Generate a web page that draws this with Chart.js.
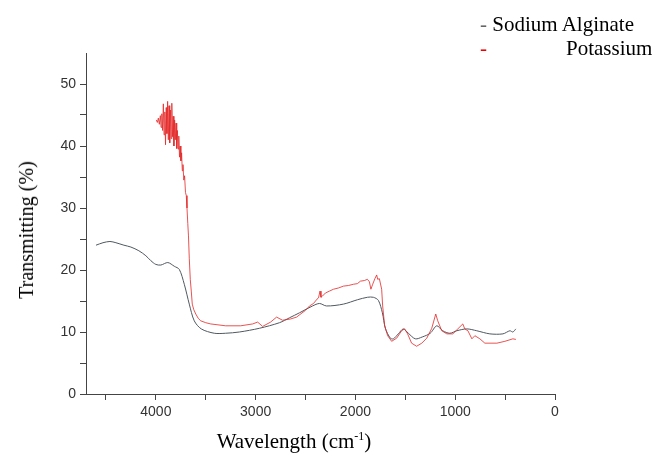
<!DOCTYPE html>
<html>
<head>
<meta charset="utf-8">
<script src="https://cdn.jsdelivr.net/npm/chart.js@4"></script>
<style>
  body { margin: 0; background: #fff; }
  #wrap { position: relative; width: 655px; height: 458px; overflow: hidden; }
  #chart { position: absolute; left: 0; top: 0; }
  .serif { position: absolute; font-family: "Liberation Serif", "Times New Roman", serif; color: #000; white-space: nowrap; line-height: 24px; }
  #legend1 { left: 480px; top: 12px; font-size: 21px; }
  #legend2 { left: 480px; top: 36px; font-size: 21px; width: 175px; }
  #legend2 .name { position: absolute; left: 86px; top: 0; }
  #ytitle { left: 26px; top: 230px; font-size: 20px; transform: translate(-50%, -50%) rotate(-90deg); }
  #xtitle { left: 294px; top: 429px; font-size: 21px; transform: translateX(-50%); }
  #xtitle sup { font-size: 12px; vertical-align: 8px; line-height: 0; }
</style>
</head>
<body>
<div id="wrap">
  <canvas id="chart" width="655" height="458"></canvas>
  <div class="serif" id="legend1"><span style="color:#666">-</span> Sodium Alginate</div>
  <div class="serif" id="legend2"><span style="color:#e00">-</span><span class="name">Potassium</span></div>
  <div class="serif" id="ytitle">Transmitting (%)</div>
  <div class="serif" id="xtitle">Wavelength (cm<sup>-1</sup>)</div>
</div>
<script>
// Sodium Alginate spectrum (wavenumber, transmittance)
const wn_alginate = [4600, 4530, 4460, 4400, 4320, 4250, 4170, 4100, 4050, 4000, 3950, 3880, 3815, 3765, 3715, 3665, 3615, 3545, 3415, 3300, 3163, 2962, 2761, 2660, 2560, 2430, 2360, 2290, 2120, 1980, 1880, 1820, 1770, 1730, 1700, 1650, 1620, 1570, 1520, 1470, 1400, 1330, 1250, 1185, 1125, 1054, 984, 884, 784, 653, 522, 452, 422, 392];
const t_alginate = [24.0, 24.4, 24.6, 24.4, 24.0, 23.7, 23.1, 22.3, 21.5, 20.9, 20.8, 21.2, 20.6, 20.1, 17.7, 14.5, 11.8, 10.5, 9.8, 9.8, 10.0, 10.6, 11.5, 12.3, 13.1, 14.2, 14.6, 14.2, 14.5, 15.2, 15.6, 15.6, 15.1, 13.1, 10.6, 9.0, 8.9, 9.7, 10.5, 9.8, 8.9, 9.2, 9.8, 11.0, 10.2, 9.8, 10.2, 10.5, 10.2, 9.7, 9.7, 10.2, 10.0, 10.5];

// Potassium spectrum (wavenumber, transmittance)
const wn_potassium = [3996, 3985, 3975, 3965, 3955, 3948, 3940, 3932, 3925, 3918, 3910, 3903, 3896, 3889, 3882, 3875, 3868, 3861, 3854, 3847, 3840, 3833, 3826, 3819, 3812, 3805, 3798, 3791, 3784, 3777, 3770, 3763, 3756, 3749, 3742, 3735, 3728, 3720, 3712, 3703, 3695, 3688, 3680, 3673, 3665, 3655, 3645, 3635, 3620, 3600, 3575, 3550, 3500, 3450, 3300, 3150, 3030, 2980, 2930, 2850, 2790, 2730, 2650, 2590, 2500, 2460, 2420, 2400, 2385, 2370, 2355, 2345, 2330, 2300, 2260, 2220, 2170, 2120, 2070, 2020, 1980, 1950, 1910, 1880, 1860, 1845, 1827, 1805, 1787, 1777, 1760, 1737, 1727, 1707, 1677, 1637, 1587, 1537, 1507, 1477, 1437, 1387, 1335, 1285, 1235, 1195, 1175, 1135, 1084, 1024, 974, 924, 904, 873, 833, 803, 753, 703, 582, 502, 422, 392];
const t_potassium = [44.2, 43.8, 44.5, 43.5, 44.9, 43.0, 45.2, 42.5, 46.8, 41.8, 45.5, 40.2, 46.2, 42.0, 47.2, 41.0, 46.5, 40.5, 45.8, 41.2, 46.9, 41.5, 44.8, 40.0, 44.2, 41.0, 43.7, 39.6, 42.5, 39.5, 41.6, 38.2, 40.0, 37.6, 38.9, 36.0, 37.0, 34.5, 35.2, 32.5, 32.0, 30.0, 27.5, 25.5, 21.9, 18.5, 16.6, 14.5, 13.6, 12.9, 12.2, 11.8, 11.5, 11.3, 11.0, 11.0, 11.3, 11.6, 10.9, 11.6, 12.4, 11.9, 12.1, 12.4, 13.5, 14.2, 14.6, 15.0, 15.3, 15.5, 16.6, 15.6, 15.8, 16.3, 16.6, 16.9, 17.1, 17.4, 17.5, 17.7, 17.8, 18.2, 18.3, 18.5, 18.1, 16.9, 17.7, 18.6, 19.2, 18.5, 18.6, 16.9, 14.2, 11.0, 9.4, 8.5, 9.0, 10.2, 10.5, 9.7, 8.2, 7.7, 8.2, 9.0, 10.6, 12.9, 11.8, 10.2, 9.7, 9.7, 10.5, 11.3, 10.5, 10.2, 8.9, 9.4, 8.9, 8.2, 8.2, 8.5, 8.9, 8.8];

// axis ticks and labels
const x_ticks = [0, 500, 1000, 1500, 2000, 2500, 3000, 3500, 4000, 4500];
const x_labels = [0, 1000, 2000, 3000, 4000];
const y_ticks = [0, 5, 10, 15, 20, 25, 30, 35, 40, 45, 50];
const y_labels = [0, 10, 20, 30, 40, 50];

function toPoints(xs, ys) {
    return xs.map((x, i) => ({ x: x, y: ys[i] }));
}

const axisColor = "#444";
const tickFont = { family: "'Liberation Sans', Arial, sans-serif", size: 14 };

const config = {
    type: "line",
    data: {
        datasets: [
            {
                label: "Potassium",
                data: toPoints(wn_potassium, t_potassium),
                borderColor: "rgba(228, 40, 40, 0.8)",
                borderWidth: 1,
                pointRadius: 0,
                tension: 0,
            },
            {
                label: "Sodium Alginate",
                data: toPoints(wn_alginate, t_alginate),
                borderColor: "#4f5860",
                borderWidth: 1,
                pointRadius: 0,
                tension: 0.3,
            },
        ],
    },
    options: {
        responsive: false,
        animation: false,
        devicePixelRatio: 1,
        layout: { padding: { left: 0, top: 53, right: 100, bottom: 0 } },
        plugins: { legend: { display: false }, tooltip: { enabled: false } },
        scales: {
            x: {
                type: "linear",
                reverse: true,
                min: 0,
                max: 4700,
                afterBuildTicks: (s) => { s.ticks = x_ticks.map(v => ({ value: v })); },
                afterFit: (s) => { s.height = 64; },
                ticks: {
                    autoSkip: false,
                    maxRotation: 0,
                    padding: 4,
                    color: "#333",
                    font: tickFont,
                    callback: (v) => x_labels.includes(v) ? String(v) : "",
                },
                grid: { drawOnChartArea: false, drawTicks: true, tickLength: 6, color: axisColor },
                border: { display: true, color: axisColor, width: 1 },
            },
            y: {
                min: 0,
                max: 55,
                afterBuildTicks: (s) => { s.ticks = y_ticks.map(v => ({ value: v })); },
                afterFit: (s) => { s.width = 86; },
                ticks: {
                    autoSkip: false,
                    padding: 4,
                    color: "#333",
                    font: tickFont,
                    callback: (v) => y_labels.includes(v) ? String(v) : "",
                },
                grid: { drawOnChartArea: false, drawTicks: true, tickLength: 6, color: axisColor },
                border: { display: true, color: axisColor, width: 1 },
            },
        },
    },
};

const chart = new Chart(document.getElementById("chart").getContext("2d"), config);
</script>
</body>
</html>
